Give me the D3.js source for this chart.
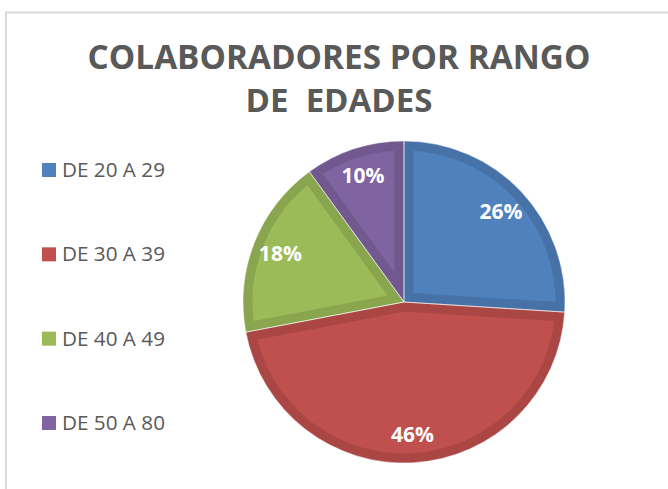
<!DOCTYPE html>
<html lang="es">
<head>
  <meta charset="UTF-8">
  <title>Colaboradores por rango de edades</title>
  <script src="https://d3js.org/d3.v7.min.js"></script>
  <style>
    body { margin: 0; background: #fff; }
  </style>
</head>
<body>
  <svg width="668" height="489"></svg>

  <script>
    // Data
    const categories = ['DE 20 A 29', 'DE 30 A 39', 'DE 40 A 49', 'DE 50 A 80'];
    const values = [26, 46, 18, 10];
    const fills = ['#4f81bd', '#c0504d', '#9bbb59', '#8064a2'];
    const edges = ['#4672a8', '#aa4643', '#89a54e', '#71588f'];
    const titleLines = ['COLABORADORES POR RANGO', 'DE  EDADES'];

    const data = categories.map((c, i) => ({ name: c, value: values[i], fill: fills[i], edge: edges[i] }));

    const svg = d3.select('svg');
    const font = "'Open Sans', 'DejaVu Sans', sans-serif";

    // Chart frame (only top and left edges visible)
    svg.append('path')
      .attr('d', 'M6,489 V12.5 H668')
      .attr('fill', 'none')
      .attr('stroke', '#d9d9d9')
      .attr('stroke-width', 2);

    // Title, scaled to the width of the original
    const titleWidths = [503, 187];
    const titleBase = [69, 112];
    titleLines.forEach((t, i) => {
      const txt = svg.append('text')
        .attr('x', 339)
        .attr('y', titleBase[i])
        .attr('text-anchor', 'middle')
        .attr('font-family', font)
        .attr('font-weight', 'bold')
        .attr('font-size', 32)
        .attr('fill', '#595959')
        .style('white-space', 'pre')
        .text(t);
      const w = txt.node().getComputedTextLength();
      txt.attr('font-size', 32 * titleWidths[i] / w);
    });

    // Pie
    const cx = 404, cy = 302, r = 161;
    const pie = d3.pie().value(d => d.value).sort(null);
    const arc = d3.arc().innerRadius(0).outerRadius(r);
    const labelArc = d3.arc().innerRadius(133).outerRadius(133);

    const g = svg.append('g').attr('transform', `translate(${cx},${cy})`);
    const arcs = pie(data);

    const defs = svg.append('defs');
    arcs.forEach((d, i) => {
      defs.append('clipPath').attr('id', 'clip' + i)
        .append('path').attr('d', arc(d));
    });

    g.selectAll('.slice')
      .data(arcs)
      .enter().append('path')
      .attr('class', 'slice')
      .attr('d', arc)
      .attr('fill', d => d.data.fill)
      .attr('stroke', d => d.data.edge)
      .attr('stroke-width', 19)
      .attr('stroke-linejoin', 'miter')
      .attr('clip-path', (d, i) => `url(#clip${i})`);

    // thin separators between slices
    g.selectAll('.sep')
      .data(arcs)
      .enter().append('path')
      .attr('class', 'sep')
      .attr('d', arc)
      .attr('fill', 'none')
      .attr('stroke', 'rgba(255,255,255,0.5)')
      .attr('stroke-width', 1);

    g.selectAll('.label')
      .data(arcs)
      .enter().append('text')
      .attr('class', 'label')
      .attr('transform', d => `translate(${labelArc.centroid(d)})`)
      .attr('dy', '0.36em')
      .attr('text-anchor', 'middle')
      .attr('font-family', font)
      .attr('font-weight', 'bold')
      .attr('font-size', 21)
      .attr('fill', '#fff')
      .text(d => d.data.value + '%');

    // Legend
    const y = d3.scalePoint().domain(categories).range([170, 423]);
    const legend = svg.selectAll('.legend')
      .data(data)
      .enter().append('g')
      .attr('class', 'legend')
      .attr('transform', d => `translate(42,${y(d.name)})`);

    legend.append('rect')
      .attr('x', 0)
      .attr('y', -7)
      .attr('width', 14)
      .attr('height', 14)
      .attr('fill', d => d.fill);

    legend.append('text')
      .attr('x', 20)
      .attr('y', 7)
      .attr('font-family', font)
      .attr('font-size', 18)
      .attr('fill', '#595959')
      .text(d => d.name)
      .each(function () {
        const w = this.getComputedTextLength();
        d3.select(this).attr('font-size', 18 * 103 / w);
      });
  </script>
</body>
</html>
